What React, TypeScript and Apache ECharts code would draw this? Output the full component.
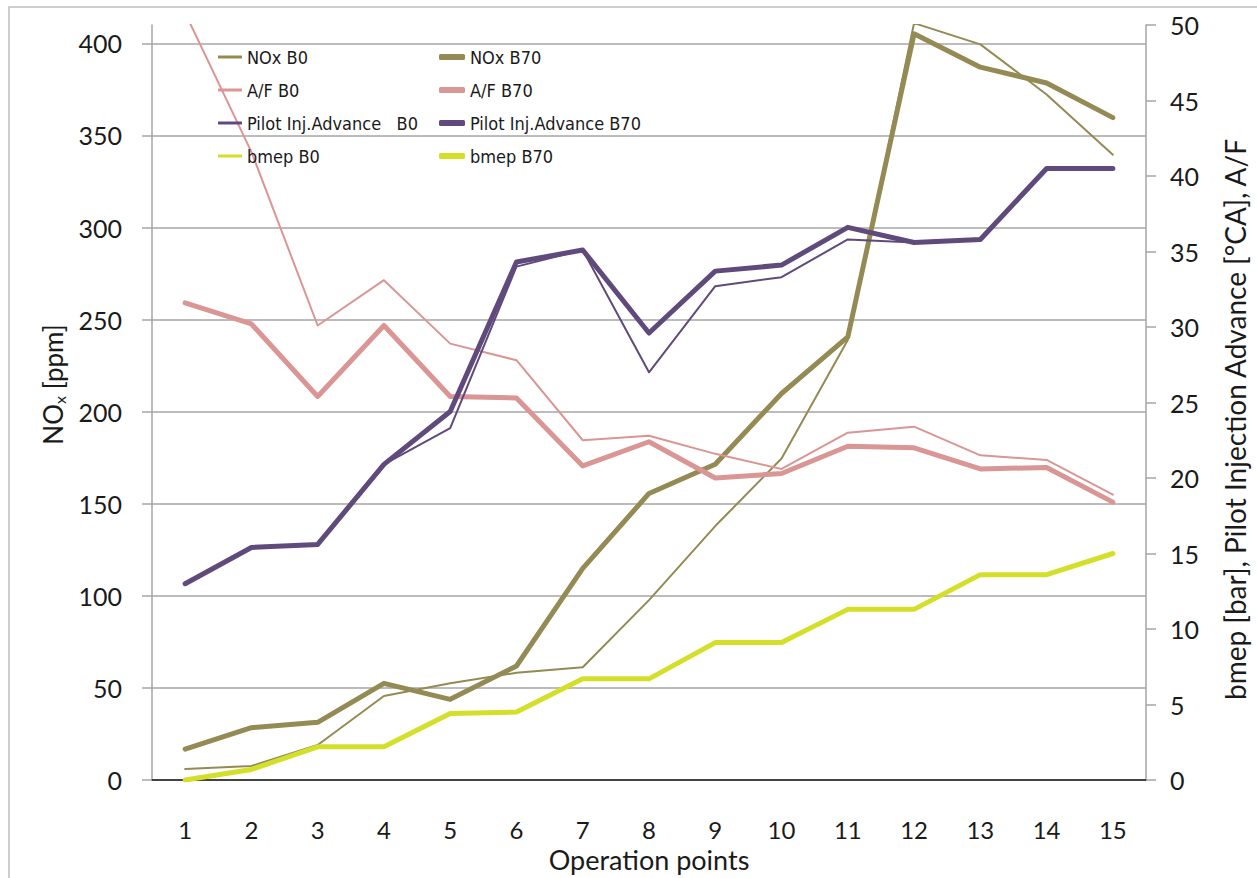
import { useEffect, useRef } from "react";
import * as echarts from "echarts";

// Operation points on the x axis
const operationPoints = ["1", "2", "3", "4", "5", "6", "7", "8", "9", "10", "11", "12", "13", "14", "15"];

// NOx [ppm] – left axis
const noxB0 = [6, 7.6, 19, 45.6, 52.5, 58.2, 61.2, 97.7, 137.9, 174.6, 239, 411, 399.5, 372.3, 339.6];
const noxB70 = [16.8, 28.4, 31.3, 52.5, 43.8, 61.9, 114.9, 155.6, 171.5, 209.9, 240.6, 405.2, 387.1, 378.5, 359.7];

// A/F, pilot injection advance [°CA], bmep [bar] – right axis
const afB0 = [50.8, 41.6, 30.1, 33.1, 28.9, 27.8, 22.5, 22.8, 21.6, 20.6, 23.0, 23.4, 21.5, 21.2, 18.9];
const afB70 = [31.6, 30.2, 25.4, 30.1, 25.4, 25.3, 20.8, 22.4, 20.0, 20.3, 22.1, 22.0, 20.6, 20.7, 18.4];
const pilotB0 = [13.0, 15.4, 15.6, 20.9, 23.3, 34.0, 35.1, 27.0, 32.7, 33.3, 35.8, 35.6, 35.8, 40.5, 40.5];
const pilotB70 = [13.0, 15.4, 15.6, 20.9, 24.4, 34.3, 35.1, 29.6, 33.7, 34.1, 36.6, 35.6, 35.8, 40.5, 40.5];
const bmepB0 = [0, 0.7, 2.2, 2.2, 4.4, 4.5, 6.7, 6.7, 9.1, 9.1, 11.3, 11.3, 13.6, 13.6, 15.0];
const bmepB70 = [0, 0.7, 2.2, 2.2, 4.4, 4.5, 6.7, 6.7, 9.1, 9.1, 11.3, 11.3, 13.6, 13.6, 15.0];

// Tick values
const leftTicks = [0, 50, 100, 150, 200, 250, 300, 350, 400];

const FONT = "Lato, 'Open Sans', sans-serif";
const NARROW = "'Liberation Sans Narrow', 'DejaVu Sans Condensed', Lato, sans-serif";
const TEXT = "#1a1a1a";
const GRID = "#a6a6a6";

const C_NOX = "#948a54";
const C_AF = "#d99694";
const C_PILOT = "#604a7b";
const C_BMEP = "#d4df2a";

const THIN = 2;
const THICK = 5;

function line(name: string, data: number[], color: string, width: number, yAxisIndex: number) {
  return {
    name,
    type: "line",
    data,
    yAxisIndex,
    symbol: "none",
    clip: true,
    itemStyle: { color },
    lineStyle: { color, width, cap: "round", join: "round" },
  };
}

export default function App() {
  const ref = useRef<HTMLDivElement>(null);

  useEffect(() => {
    if (!ref.current) return;
    const chart = echarts.init(ref.current, null, { renderer: "svg" });

    const legendText = { fontFamily: NARROW, fontSize: 18, color: TEXT, lineHeight: 22 };

    chart.setOption({
      animation: false,
      backgroundColor: "#ffffff",
      textStyle: { fontFamily: FONT },
      graphic: [
        {
          type: "rect",
          shape: { x: 9, y: 7, width: 1400, height: 1000 },
          style: { fill: "none", stroke: "#bfbfbf", lineWidth: 1.5 },
          silent: true,
        },
      ],
      grid: { left: 152, right: 109, top: 25, bottom: 98, containLabel: false },
      legend: [
        {
          orient: "vertical",
          left: 213,
          top: 41,
          itemWidth: 24,
          itemHeight: 3,
          itemGap: 11,
          icon: "rect",
          selectedMode: false,
          textStyle: legendText,
          data: ["NOx B0", "A/F B0", "Pilot Inj.Advance   B0", "bmep B0"],
        },
        {
          orient: "vertical",
          left: 434,
          top: 41,
          itemWidth: 26,
          itemHeight: 6,
          itemGap: 11,
          icon: "roundRect",
          selectedMode: false,
          textStyle: legendText,
          data: ["NOx B70", "A/F B70", "Pilot Inj.Advance B70", "bmep B70"],
        },
      ],
      xAxis: [
        {
          type: "category",
          data: operationPoints,
          boundaryGap: true,
          name: "Operation points",
          nameLocation: "middle",
          nameGap: 63,
          nameTextStyle: { fontFamily: FONT, fontSize: 27, color: TEXT },
          axisLine: { lineStyle: { color: GRID, width: 1.5 } },
          axisTick: { alignWithLabel: true, length: 8, lineStyle: { color: GRID, width: 1.5 } },
          axisLabel: { margin: 37, fontFamily: FONT, fontSize: 24, color: TEXT },
          splitLine: { show: false },
        },
        {
          type: "category",
          data: operationPoints,
          position: "top",
          axisLine: { lineStyle: { color: "#202020", width: 1.5 } },
          axisTick: { show: false },
          axisLabel: { show: false },
          splitLine: { show: false },
        },
      ],
      yAxis: [
        {
          type: "value",
          position: "left",
          min: 0,
          max: 410,
          interval: 50,
          name: "{n|NO}{s|x}{n| [ppm]}",
          nameLocation: "middle",
          nameRotate: 90,
          nameGap: 84,
          nameTextStyle: {
            padding: [0, 0, 0, 36],
            rich: {
              n: { fontFamily: FONT, fontSize: 26, color: TEXT, lineHeight: 30 },
              s: { fontFamily: FONT, fontSize: 16, color: TEXT, lineHeight: 16, verticalAlign: "bottom" },
            },
          },
          axisLine: { show: true, lineStyle: { color: GRID, width: 1.5 } },
          axisTick: { show: true, length: 10, customValues: leftTicks, lineStyle: { color: GRID, width: 1.5 } },
          axisLabel: { margin: 30, customValues: leftTicks, fontFamily: FONT, fontSize: 25, color: TEXT },
          splitLine: { show: true, lineStyle: { color: GRID, width: 1.5 } },
        },
        {
          type: "value",
          position: "right",
          min: 0,
          max: 50,
          interval: 5,
          name: "bmep [bar], Pilot Injection Advance [°CA], A/F",
          nameLocation: "middle",
          nameRotate: 90,
          nameGap: 75,
          nameTextStyle: { fontFamily: FONT, fontSize: 28, color: TEXT, padding: [0, 34, 0, 0] },
          axisLine: { show: true, lineStyle: { color: GRID, width: 1.5 } },
          axisTick: { show: true, length: 10, lineStyle: { color: GRID, width: 1.5 } },
          axisLabel: { margin: 24, fontFamily: FONT, fontSize: 25, color: TEXT },
          splitLine: { show: false },
        },
      ],
      series: [
        line("NOx B0", noxB0, C_NOX, THIN, 0),
        line("NOx B70", noxB70, C_NOX, THICK, 0),
        line("A/F B0", afB0, C_AF, THIN, 1),
        line("A/F B70", afB70, C_AF, THICK, 1),
        line("Pilot Inj.Advance   B0", pilotB0, C_PILOT, THIN, 1),
        line("Pilot Inj.Advance B70", pilotB70, C_PILOT, THICK, 1),
        line("bmep B0", bmepB0, C_BMEP, THIN, 1),
        line("bmep B70", bmepB70, C_BMEP, THICK, 1),
      ],
    });

    return () => chart.dispose();
  }, []);

  return (
    <div
      ref={ref}
      style={{ position: "fixed", left: 0, top: 0, width: 1257, height: 878 }}
    />
  );
}
